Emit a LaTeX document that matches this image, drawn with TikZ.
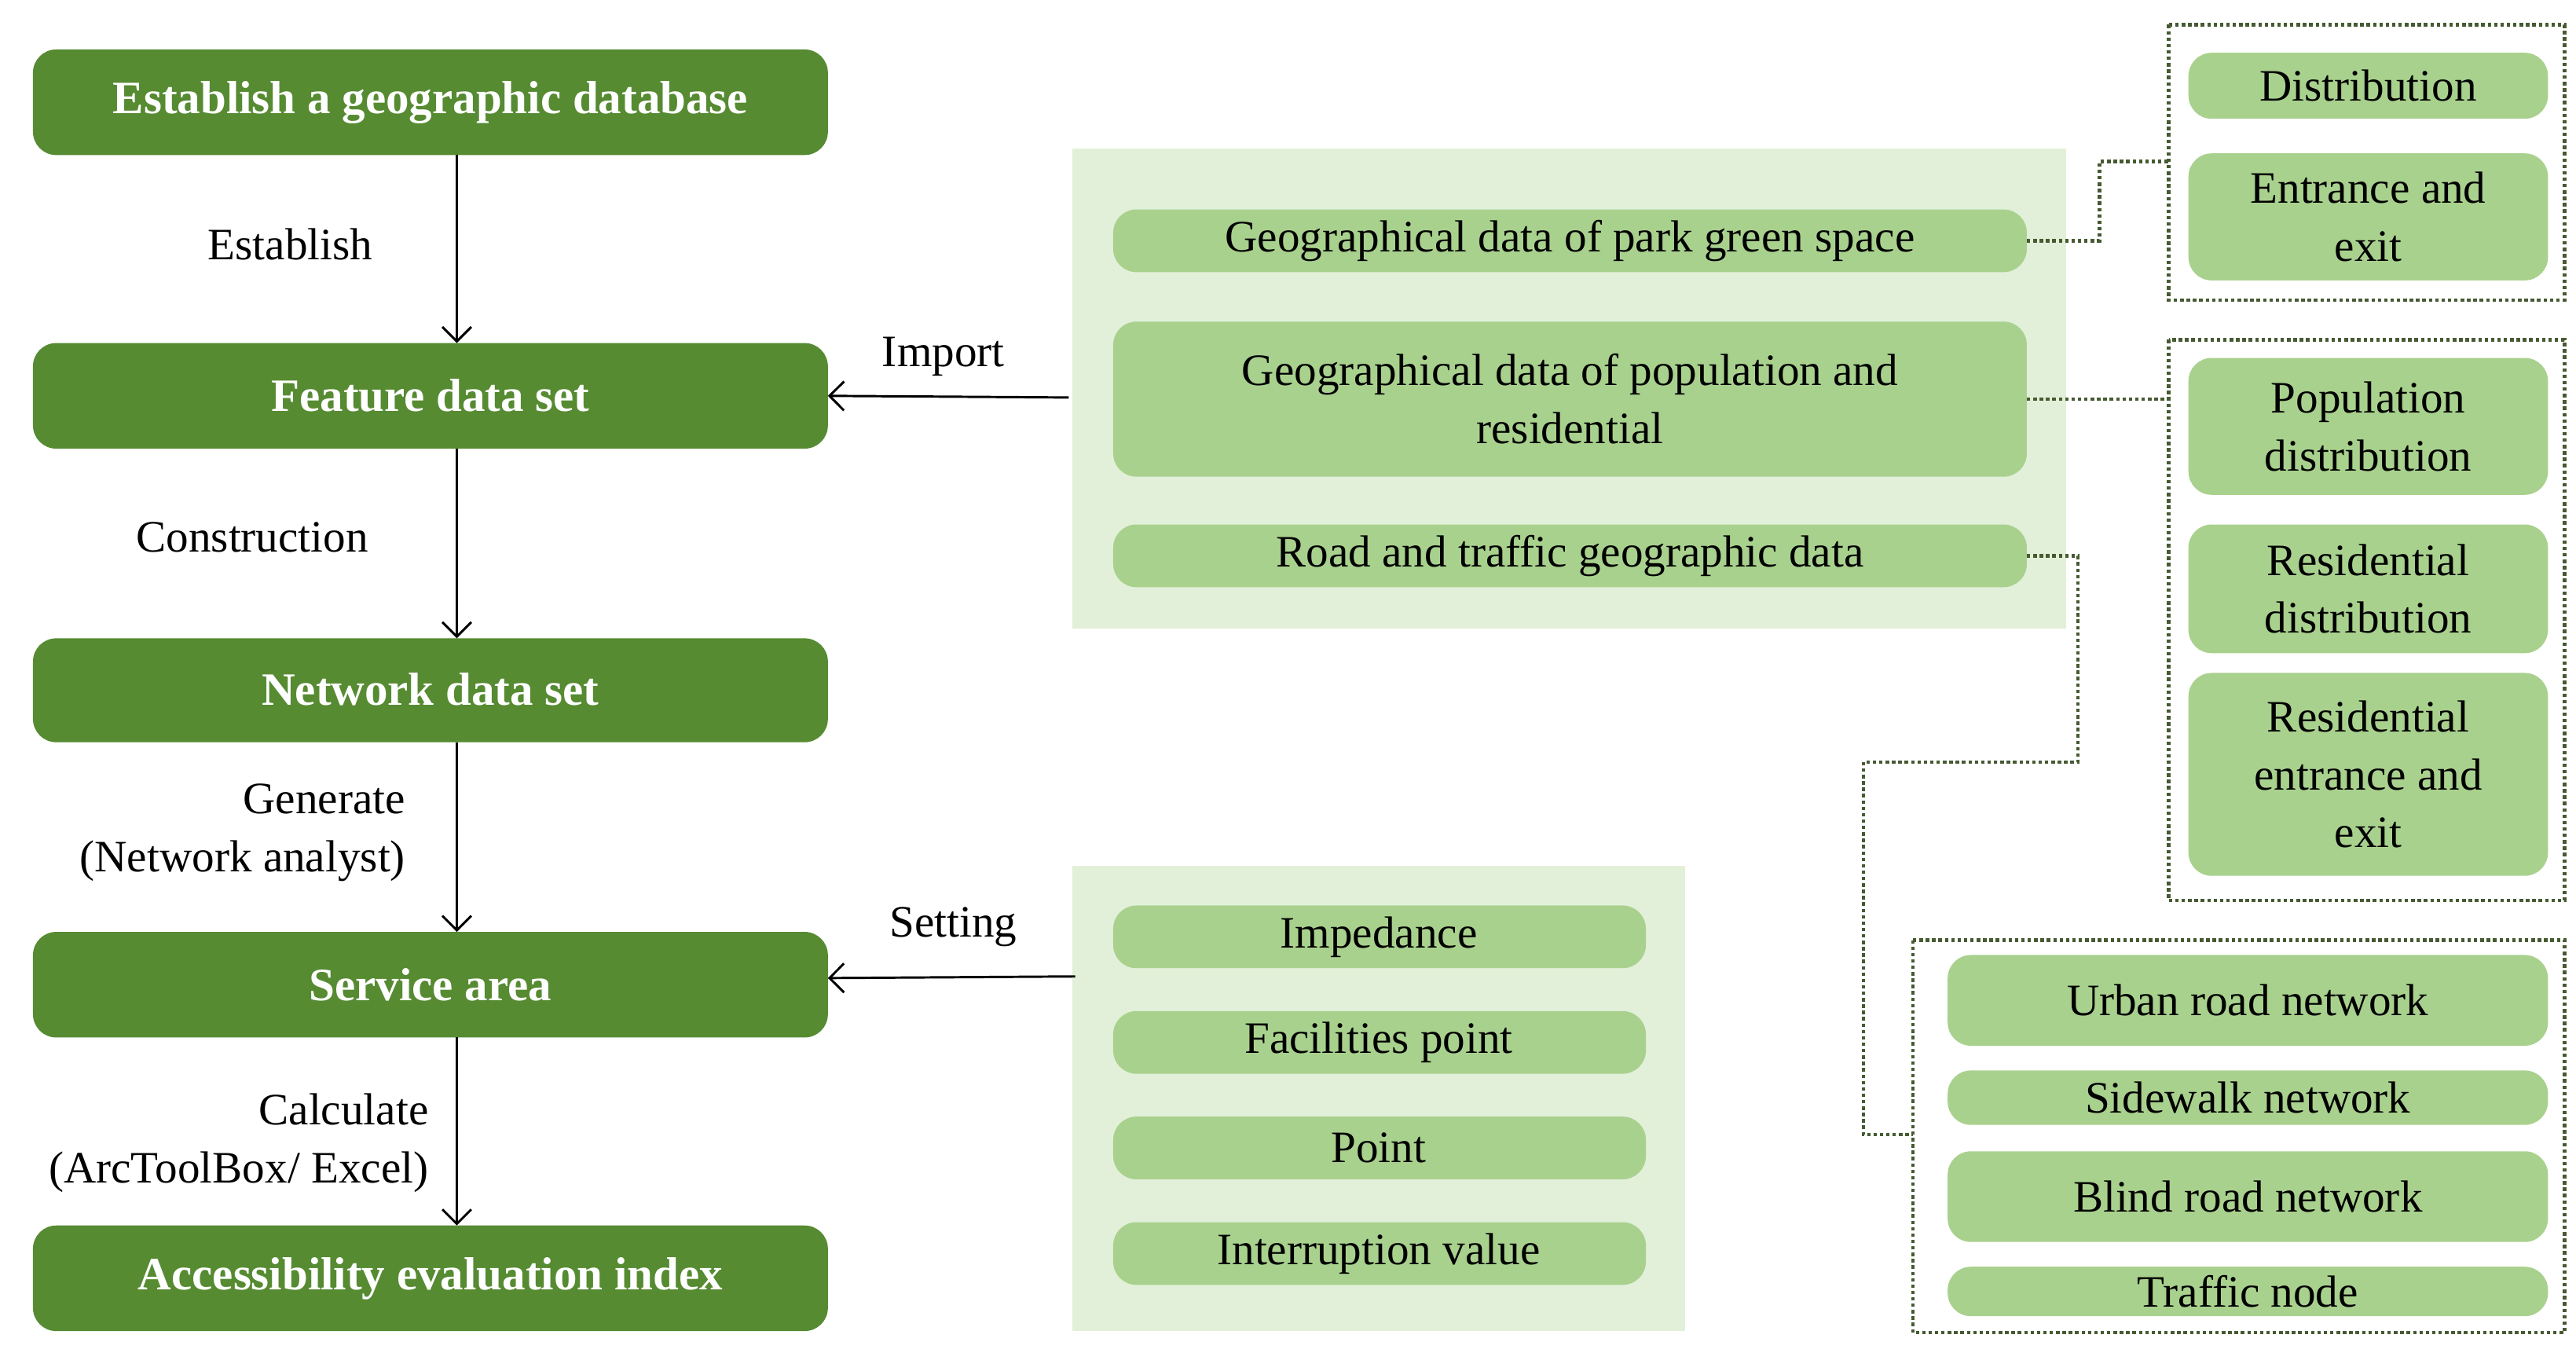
\documentclass[tikz,border=0pt]{standalone}
\usepackage{fontspec}
\setmainfont{Liberation Serif}
\usetikzlibrary{arrows.meta}
\definecolor{dg}{RGB}{86,139,50}
\definecolor{lg}{RGB}{169,209,142}
\definecolor{pg}{RGB}{226,240,217}
\definecolor{dot}{RGB}{70,90,50}
\begin{document}
\begin{tikzpicture}[x=0.02cm,y=-0.02cm,
 dk/.style={fill=dg,rounded corners=8,text=white,font=\fontsize{16}{18}\selectfont\bfseries,align=center},
 lt/.style={fill=lg,rounded corners=8,font=\fontsize{15.5}{20}\selectfont,align=center},
 lab/.style={font=\fontsize{15.5}{20}\selectfont,align=right},
 ar/.style={-{Straight Barb[length=5pt]},thick},
 dl/.style={dot,densely dotted,line width=1.2pt}]
\useasboundingbox (0,0) rectangle (1562,820);
% panels
\fill[pg] (650,90) rectangle (1253,381);
\fill[pg] (650,525) rectangle (1022,807);
% left boxes
\path[dk] (20,30) rectangle (502,94); \node[text=white,font=\fontsize{16}{18}\selectfont\bfseries] (a) at (261,62) {Establish a geographic database};
\path[dk] (20,208) rectangle (502,272); \node[text=white,font=\fontsize{16}{18}\selectfont\bfseries] (b) at (261,240) {Feature data set};
\path[dk] (20,387) rectangle (502,450); \node[text=white,font=\fontsize{16}{18}\selectfont\bfseries] (c) at (261,418) {Network data set};
\path[dk] (20,565) rectangle (502,629); \node[text=white,font=\fontsize{16}{18}\selectfont\bfseries] (d) at (261,597) {Service area};
\path[dk] (20,743) rectangle (502,807); \node[text=white,font=\fontsize{16}{18}\selectfont\bfseries] (e) at (261,775) {Accessibility evaluation index};
\coordinate (a1) at (277,94); \coordinate (b0) at (277,208);
\coordinate (b1) at (277,272); \coordinate (c0) at (277,387);
\coordinate (c1) at (277,450); \coordinate (d0) at (277,565);
\coordinate (d1) at (277,629); \coordinate (e0) at (277,743);
\draw[ar] (a1) -- (b0); \draw[ar] (b1) -- (c0); \draw[ar] (c1) -- (d0); \draw[ar] (d1) -- (e0);
\node[lab] at (176,148) {Establish};
\node[lab] at (153,326) {Construction};
\node[lab,anchor=east] at (252,505) {Generate\\(Network analyst)};
\node[lab,anchor=east] at (266,693) {Calculate\\(ArcToolBox/ Excel)};
% panel 1 boxes
\path[lt] (675,127) rectangle (1229,165); \node[font=\fontsize{15.5}{20}\selectfont] (p1) at (952,146) {Geographical data of park green space};
\path[lt] (675,195) rectangle (1229,289); \node[font=\fontsize{15.5}{20}\selectfont,align=center] (p2) at (952,242) {Geographical data of population and\\residential};
\path[lt] (675,318) rectangle (1229,356); \node[font=\fontsize{15.5}{20}\selectfont] (p3) at (952,337) {Road and traffic geographic data};
\coordinate (i0) at (648,241); \coordinate (i1) at (502,240);
\draw[ar] (i0) -- (i1); \node[lab] at (572,216) {Import};
% panel 2
\foreach \y/\t in {568/Impedance,632/Facilities point,696/Point / line barrier,760/Interruption value}{
 \path[lt] (675,\y-19) rectangle (998,\y+19); \node[font=\fontsize{15.5}{20}\selectfont] at (836,\y) {\t};}
\coordinate (s0) at (652,592); \coordinate (s1) at (502,593);
\draw[ar] (s0) -- (s1); \node[lab] at (578,562) {Setting};
% right groups
\draw[dl] (1315,15) rectangle (1555,182);
\draw[dl] (1315,206) rectangle (1555,546);
\draw[dl] (1160,570) rectangle (1555,808);
\newcommand\rb[4]{\path[lt] (#1,#2) rectangle (1545,#3); \node[font=\fontsize{15.5}{20}\selectfont,align=center] at ({(#1+1545)/2},{(#2+#3)/2}) {#4};}
\rb{1327}{32}{72}{Distribution}
\rb{1327}{93}{170}{Entrance and\\exit}
\rb{1327}{217}{300}{Population\\distribution}
\rb{1327}{318}{396}{Residential\\distribution}
\rb{1327}{408}{531}{Residential\\entrance and\\exit}
\rb{1181}{579}{634}{Urban road network}
\rb{1181}{649}{682}{Sidewalk network}
\rb{1181}{698}{753}{Blind road network}
\rb{1181}{768}{798}{Traffic node}
\coordinate (g1) at (1315,98); \coordinate (g2) at (1315,242); \coordinate (g3) at (1160,688);
\draw[dl] (1229,146) -- (1273,146) -- (1273,98) -- (g1);
\draw[dl] (1229,242) -- (g2);
\draw[dl] (1229,337) -- (1260,337) -- (1260,462) -- (1130,462) -- (1130,688) -- (g3);
\end{tikzpicture}
\end{document}
